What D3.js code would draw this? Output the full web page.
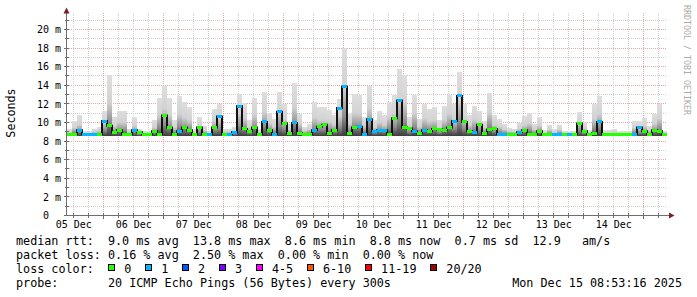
<!DOCTYPE html>
<html>
<head>
<meta charset="utf-8">
<script src="https://cdn.jsdelivr.net/npm/d3@7"></script>
<style>
  body { margin: 0; background: #fff; }
  svg { display: block; }
  text { font-family: "DejaVu Sans Mono", monospace; white-space: pre; }
</style>
</head>
<body>
<svg id="chart" width="697" height="297"></svg>
<script>
// 2 hour steps, starting 05 Dec 09:30
const startTime = new Date(2025, 11, 5, 9, 30);
const stepHours = 2;

const medianRtt = [
  8.7, 8.7, 9.1, 8.7, 8.7, 8.7, 8.7, 10.1, 9.6, 8.9,
  9.1, 8.7, 8.7, 9.1, 8.9, 8.7, 8.7, 9.0, 8.7, 10.7,
  9.4, 8.7, 9.0, 9.4, 9.1, 8.7, 9.4, 8.7, 8.7, 9.4,
  10.6, 8.7, 8.7, 8.9, 11.7, 9.25, 9.0, 9.4, 8.7, 10.0,
  9.1, 8.7, 11.1, 9.85, 8.8, 9.9, 8.8, 8.7, 8.7, 9.1,
  9.5, 9.7, 8.8, 9.1, 11.5, 13.8, 8.8, 9.4, 9.5, 8.7,
  10.3, 9.0, 9.1, 9.1, 8.7, 10.4, 12.3, 9.4, 9.3, 9.0,
  8.8, 9.1, 9.0, 9.25, 9.2, 9.1, 9.4, 10.1, 12.8, 10.0,
  9.0, 8.9, 9.7, 8.8, 9.2, 9.25, 8.7, 8.7, 8.7, 8.7,
  8.9, 9.1, 8.7, 8.7, 9.0, 8.7, 8.7, 8.7, 8.7, 8.7,
  8.7, 8.7, 9.85, 9.0, 8.7, 8.8, 10.0, 8.7, 8.7, 8.7,
  8.7, 8.7, 8.7, 8.7, 9.4, 9.0, 8.7, 9.1, 9.0, 8.7
];

// highest ping of each step (top of the smoke)
const topRtt = [
  9.2, 10.1, 10.7, 9.0, 8.9, 9.3, 9.5, 11.2, 15.0, 10.5,
  11.2, 11.2, 9.3, 10.5, 9.3, 9.0, 9.0, 10.2, 12.6, 13.9,
  12.6, 10.2, 12.8, 12.1, 11.6, 9.2, 10.5, 9.6, 9.0, 11.4,
  11.9, 9.3, 9.3, 9.5, 13.0, 12.0, 10.2, 12.6, 9.3, 13.2,
  11.0, 10.3, 13.2, 11.9, 9.8, 14.2, 10.9, 9.5, 9.8, 12.1,
  11.6, 11.6, 11.3, 10.8, 12.5, 18.0, 10.9, 13.0, 12.9, 10.5,
  13.9, 10.2, 11.2, 10.7, 12.2, 12.9, 15.7, 15.0, 10.5, 12.9,
  10.3, 11.9, 11.4, 11.6, 10.2, 11.7, 12.9, 11.9, 15.4, 11.9,
  10.7, 11.7, 11.2, 10.1, 13.1, 10.7, 10.3, 9.8, 9.4, 9.3,
  9.9, 10.6, 11.0, 9.8, 10.5, 9.1, 9.7, 9.2, 9.7, 9.0,
  9.0, 9.0, 11.1, 10.0, 9.1, 11.9, 12.8, 9.1, 9.1, 9.2,
  9.0, 9.0, 9.0, 10.1, 10.1, 10.4, 9.6, 10.9, 11.9, 9.0
];
const smokeFloor = 8.5;

// lost pings out of 20
const lossCount = [
  0, 0, 1, 1, 1, 1, 0, 1, 0, 0,
  0, 0, 0, 1, 0, 0, 0, 0, 0, 0,
  0, 0, 1, 0, 0, 0, 0, 0, 1, 0,
  1, 0, 1, 1, 1, 0, 0, 0, 0, 1,
  0, 1, 1, 0, 0, 1, 0, 0, 0, 1,
  0, 0, 0, 0, 1, 1, 0, 0, 1, 1,
  1, 1, 1, 1, 0, 0, 1, 0, 0, 1,
  0, 1, 0, 0, 0, 0, 0, 1, 1, 0,
  0, 1, 0, 0, 0, 0, 1, 1, 0, 0,
  1, 0, 0, 0, 0, 0, 0, 1, 1, 0,
  1, 0, 0, 0, 0, 0, 1, 0, 0, 0,
  0, 0, 0, 1, 1, 0, 0, 0, 0, 0
];

const yTicks = [0, 2, 4, 6, 8, 10, 12, 14, 16, 18, 20];
const lossLabels = ["0", "1", "2", "3", "4-5", "6-10", "11-19", "20/20"];
const lossUpper = [0, 1, 2, 3, 5, 10, 19, 20];
const lossColors = ["#26ff00", "#00b8ff", "#0059ff", "#7e00ff", "#ff00ff", "#ff5500", "#ff0000", "#a00000"];
const rttStats = ["9.0 ms avg", "13.8 ms max", "8.6 ms min", "8.8 ms now", "0.7 ms sd", "12.9   am/s"];
const lossStats = ["0.16 % avg", "2.50 % max", "0.00 % min", "0.00 % now"];
const probeText = "20 ICMP Echo Pings (56 Bytes) every 300s";
const stampText = "Mon Dec 15 08:53:16 2025";

const svg = d3.select('#chart');
const endTime = d3.timeDay.offset(startTime, 10);
const times = d3.range(medianRtt.length + 1).map(i => d3.timeHour.offset(startTime, i * stepHours));

const x = d3.scaleTime().domain([startTime, endTime]).range([67, 667]);
const y = d3.scaleLinear().domain([0, 21.72]).range([215, 13]);
const px = v => Math.round(v) + 0.5;

const grad = svg.append('defs').append('linearGradient')
    .attr('id', 'smoke').attr('x1', 0).attr('y1', 0).attr('x2', 0).attr('y2', 1);
grad.selectAll('stop')
  .data([[0, '#dedede'], [0.45, '#d2d2d2'], [0.78, '#8c8c8c'], [1, '#3c3c3c']])
  .join('stop')
    .attr('offset', d => d[0])
    .attr('stop-color', d => d[1]);

// grid
const grid = svg.append('g').attr('shape-rendering', 'crispEdges').attr('stroke-dasharray', '1,1');
const hGrid = d3.range(1, 22);
grid.selectAll('.hg').data(hGrid).join('line')
    .attr('x1', 67).attr('x2', 667)
    .attr('y1', d => px(y(d))).attr('y2', d => px(y(d)))
    .attr('stroke', d => d % 2 ? '#cfcfcf' : '#e2a6a6');
const midnights = d3.timeDay.range(startTime, endTime);
const sixHours = d3.timeHour.every(6).range(startTime, endTime).filter(d => d.getHours() !== 0);
grid.selectAll('.vg').data(sixHours).join('line')
    .attr('x1', d => px(x(d))).attr('x2', d => px(x(d)))
    .attr('y1', 13).attr('y2', 215)
    .attr('stroke', '#cfcfcf');
grid.selectAll('.vm').data(midnights).join('line')
    .attr('x1', d => px(x(d))).attr('x2', d => px(x(d)))
    .attr('y1', 13).attr('y2', 215)
    .attr('stroke', '#e2a6a6');

// smoke
svg.append('g').attr('shape-rendering', 'crispEdges')
  .selectAll('rect').data(topRtt).join('rect')
    .attr('x', (d, i) => x(times[i]))
    .attr('width', (d, i) => x(times[i + 1]) - x(times[i]))
    .attr('y', d => y(d))
    .attr('height', d => y(smokeFloor) - y(d))
    .attr('fill', 'url(#smoke)');

// median
const medPts = medianRtt.map((d, i) => [times[i], d]);
medPts.push([times[medianRtt.length], medianRtt[medianRtt.length - 1]]);
svg.append('path')
    .datum(medPts)
    .attr('fill', 'none')
    .attr('stroke', '#111')
    .attr('stroke-width', 2)
    .attr('d', d3.line().curve(d3.curveStepAfter).x(d => x(d[0])).y(d => y(d[1])));

const lossClass = n => lossUpper.findIndex(u => n <= u);
svg.append('g').attr('shape-rendering', 'crispEdges')
  .selectAll('rect').data(medianRtt).join('rect')
    .attr('x', (d, i) => x(times[i]))
    .attr('width', (d, i) => x(times[i + 1]) - x(times[i]))
    .attr('y', d => y(d) - 1.5)
    .attr('height', 3)
    .attr('fill', (d, i) => lossColors[lossClass(lossCount[i])]);

// axes
const axisCol = '#6e6e6e';
const ax = svg.append('g').attr('shape-rendering', 'crispEdges').attr('stroke', axisCol);
ax.append('line').attr('x1', 66.5).attr('x2', 66.5).attr('y1', 215).attr('y2', 10);
ax.append('line').attr('x1', 64).attr('x2', 670).attr('y1', 215.5).attr('y2', 215.5);
ax.selectAll('.yt').data(hGrid).join('line')
    .attr('x1', d => d % 2 ? 64.5 : 63.5).attr('x2', 69)
    .attr('y1', d => px(y(d))).attr('y2', d => px(y(d)));
ax.selectAll('.xt').data(sixHours.concat(midnights)).join('line')
    .attr('x1', d => px(x(d))).attr('x2', d => px(x(d)))
    .attr('y1', 213).attr('y2', d => d.getHours() === 0 ? 218.5 : 217.5);
svg.append('path').attr('d', 'M63.5,13.5L69.5,13.5L66.5,7.5Z').attr('fill', '#7f1f1f');
svg.append('path').attr('d', 'M669,212.5L669,218.5L674.5,215.5Z').attr('fill', '#7f1f1f');

const yAxisG = svg.append('g')
    .attr('transform', 'translate(61,0)')
    .call(d3.axisLeft(y).tickValues(yTicks).tickSize(0).tickPadding(0)
      .tickFormat(d => d === 0 ? '0  ' : d + ' m'));
yAxisG.select('.domain').remove();
yAxisG.selectAll('text')
    .attr('dy', '0.36em')
    .style('font-family', '"DejaVu Sans Mono", monospace')
    .style('font-size', '10px')
    .attr('fill', '#000');

const noons = midnights.map(d => d3.timeHour.offset(d, -12));
const xAxisG = svg.append('g')
    .attr('transform', 'translate(0,215)')
    .call(d3.axisBottom(x).tickValues(noons).tickSize(0).tickPadding(6)
      .tickFormat(d3.timeFormat('%d %b')));
xAxisG.select('.domain').remove();
xAxisG.selectAll('text')
    .style('font-family', '"DejaVu Sans Mono", monospace')
    .style('font-size', '10px')
    .attr('fill', '#000');

// labels
svg.append('text')
    .attr('transform', 'translate(15,113) rotate(-90)')
    .attr('text-anchor', 'middle')
    .style('font-size', '11.7px')
    .text('Seconds');
svg.append('text')
    .attr('transform', 'translate(684,5) rotate(90)')
    .style('font-size', '8.3px')
    .attr('fill', '#ababab')
    .text('RRDTOOL / TOBI OETIKER');

// legend
const leg = svg.append('g').style('font-size', '11.76px').attr('fill', '#000');
leg.append('text').attr('x', 16).attr('y', 245).text('median rtt:  ' + rttStats.join('  '));
leg.append('text').attr('x', 16).attr('y', 259).text('packet loss: ' + lossStats.join('  '));
leg.append('text').attr('x', 16).attr('y', 273).text('loss color:');
leg.append('text').attr('x', 16).attr('y', 287).text('probe:       ' + probeText);
leg.append('text').attr('x', 682).attr('y', 287).attr('text-anchor', 'end').text(stampText);

let bx = 108;
lossLabels.forEach((lab, i) => {
  leg.append('rect')
      .attr('x', bx + 0.5).attr('y', 264.5).attr('width', 6).attr('height', 6)
      .attr('fill', lossColors[i]).attr('stroke', '#000').attr('shape-rendering', 'crispEdges');
  leg.append('text').attr('x', bx + 16.3).attr('y', 273).text(lab);
  bx += 36.9 + (lab.length - 1) * 7.08;
});
</script>
</body>
</html>
